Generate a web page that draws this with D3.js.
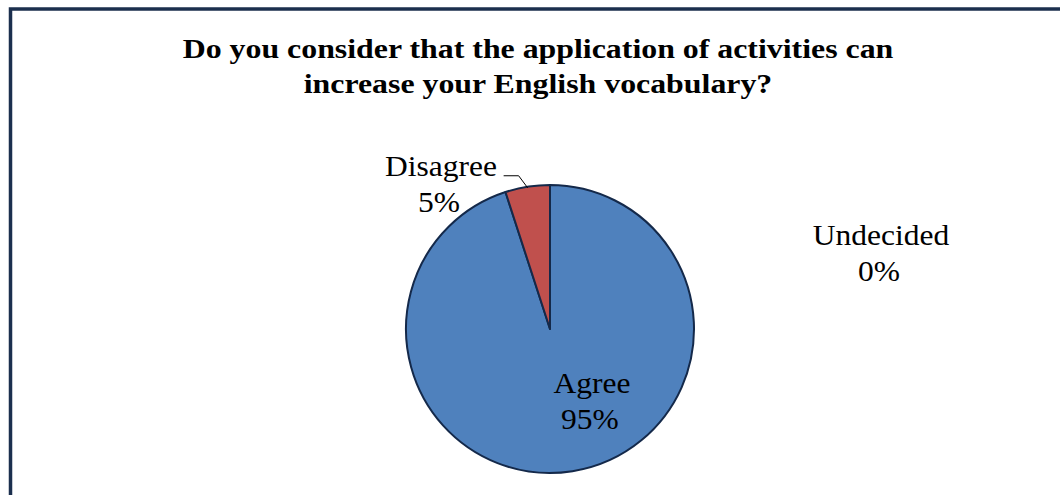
<!DOCTYPE html>
<html>

<head>
    <meta charset="UTF-8">
    <style>
        body { margin: 0; background: #fff; }
        svg { display: block; }
        text { font-family: "Liberation Serif", "Times New Roman", serif; fill: #000; }
    </style>
</head>

<body>
    <svg></svg>
    <script src="https://d3js.org/d3.v7.min.js"></script>

    <script>

        const categories = ["Agree", "Disagree", "Undecided"];
        const values = [95, 5, 0];
        const colors = ["#4F81BD", "#C0504D", "#9BBB59"];
        const titleLines = ["Do you consider that the application of activities can",
            "increase your English vocabulary?"];

        let width = 1060, height = 495;

        let svg = d3.select("svg")
            .attr("width", width)
            .attr("height", height);

        // chart border (right and bottom edges fall outside the picture)
        svg.append("rect")
            .attr("x", 10.5).attr("y", 9)
            .attr("width", 1080).attr("height", 520)
            .attr("fill", "none")
            .attr("stroke", "#1b2f4e")
            .attr("stroke-width", 3.5);

        // the original text is a little wider than the font, so stretch it
        svg.append("g")
            .selectAll("text")
            .data(titleLines)
            .enter()
            .append("text")
            .attr("transform", (d, i) => "translate(538," + (58 + i * 35) + ") scale(1.18,1)")
            .attr("text-anchor", "middle")
            .style("font-weight", "bold")
            .style("font-size", "27px")
            .text(d => d);

        const cx = 550, cy = 329, r = 144;

        let data = categories.map((c, i) => ({ name: c, value: values[i], color: colors[i] }));

        const pie = d3.pie().sort(null).value(d => d.value);
        const arc = d3.arc().innerRadius(0).outerRadius(r);
        const arcs = pie(data);

        let g = svg.append("g").attr("transform", "translate(" + cx + "," + cy + ")");

        g.selectAll("path")
            .data(arcs.filter(d => d.data.value > 0))
            .enter()
            .append("path")
            .attr("d", arc)
            .attr("fill", d => d.data.color)
            .attr("stroke", "#14294a")
            .attr("stroke-width", 2)
            .attr("stroke-linejoin", "round");

        // label placement, relative to the pie centre
        const labelPos = {
            "Agree": [42, 64],
            "Disagree": [-109, -153],
            "Undecided": [331, -84]
        };

        // leader line for the small slice
        let dis = arcs[1];
        let mid = (dis.startAngle + dis.endAngle) / 2;
        let px = Math.sin(mid) * (r - 1), py = -Math.cos(mid) * (r - 1);
        g.append("path")
            .attr("d", d3.line()([[px, py], [px - 9, py - 12], [px - 24, py - 12]]))
            .attr("fill", "none")
            .attr("stroke", "#000")
            .attr("stroke-width", 1);

        arcs.forEach(a => {
            let p = labelPos[a.data.name];
            let t = g.append("text")
                .attr("transform", "translate(" + p[0] + "," + p[1] + ") scale(1.05,1)")
                .attr("text-anchor", "middle")
                .style("font-size", "30px");
            t.append("tspan").attr("x", 0).attr("y", 0).text(a.data.name);
            t.append("tspan").attr("x", -2).attr("y", 36).text(Math.round(a.data.value) + "%");
        });
    </script>

</body>

</html>
